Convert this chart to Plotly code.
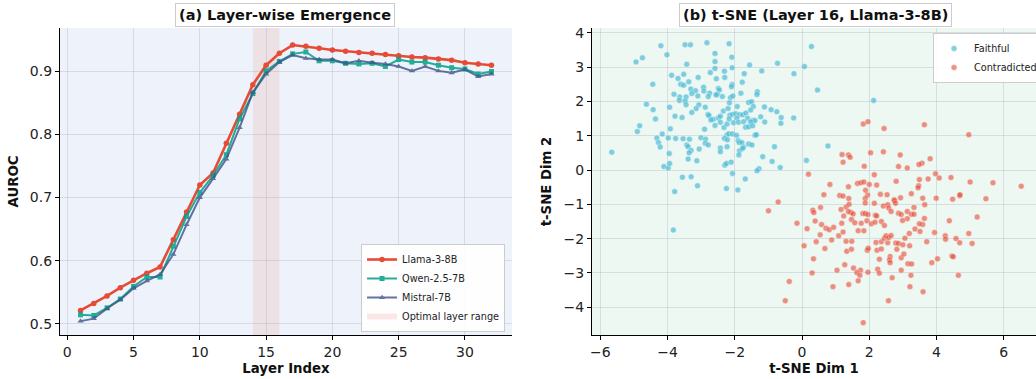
import plotly.graph_objects as go

# ---------------- data ----------------
layers = list(range(1, 33))
llama_auroc = [0.521, 0.532, 0.544, 0.557, 0.569, 0.580, 0.590, 0.633, 0.677, 0.720,
               0.739, 0.786, 0.832, 0.879, 0.910, 0.929, 0.942, 0.940, 0.937, 0.934,
               0.932, 0.930, 0.929, 0.927, 0.925, 0.923, 0.922, 0.920, 0.918, 0.914,
               0.912, 0.910]
qwen_auroc = [0.514, 0.513, 0.525, 0.539, 0.559, 0.574, 0.574, 0.623, 0.670, 0.708,
              0.735, 0.768, 0.825, 0.865, 0.901, 0.916, 0.928, 0.931, 0.917, 0.917,
              0.913, 0.912, 0.913, 0.908, 0.919, 0.915, 0.915, 0.910, 0.906, 0.904,
              0.896, 0.900]
mistral_auroc = [0.504, 0.508, 0.524, 0.538, 0.556, 0.568, 0.578, 0.610, 0.657, 0.700,
                 0.730, 0.761, 0.811, 0.867, 0.896, 0.915, 0.926, 0.921, 0.919, 0.919,
                 0.913, 0.917, 0.914, 0.912, 0.908, 0.901, 0.908, 0.901, 0.898, 0.903,
                 0.892, 0.896]
optimal_range = [14, 16]

faithful_x = [-4.20, -3.48, -3.32, -2.83, -2.17, 0.28, -4.02, -2.59, -4.94, -4.75,
              -2.09, -2.59, -3.43, -0.73, 0.07, -1.56, -2.08, -2.59, -2.73, -2.31,
              -1.20, -3.88, -3.52, -1.72, -0.24, -3.69, -2.55, -2.30, -3.09, -4.44,
              -3.61, -3.52, -3.37, -2.93, -2.49, -2.08, -2.10, -1.78, -3.31, -3.17,
              -2.92, -2.75, -2.46, -2.52, -1.33, -3.28, -3.81, -3.64, -3.45, -3.10,
              -2.79, -2.56, -2.37, -2.13, -2.06, -1.82, -1.34, 0.46, -3.65, -3.48,
              -3.94, -4.63, -3.45, -3.07, -3.15, -2.88, -2.16, -1.93, -1.59, -1.50,
              -1.45, -1.12, -0.92, -0.75, -4.43, -4.36, -3.78, -3.57, -3.28, -2.80,
              -2.77, -2.64, -2.49, -2.43, -2.34, -2.20, -2.15, -2.07, -1.97, -1.86,
              -1.76, -1.67, -1.53, -1.62, -1.47, -1.40, -1.23, -1.11, -0.62, -0.63,
              -0.25, -4.83, -4.90, -3.92, -2.90, -2.71, -2.59, -2.43, -2.32, -2.23,
              -2.17, -2.04, -1.94, -1.89, -1.74, -1.68, -1.59, -1.53, -1.47, -1.40,
              -1.36, -4.16, -4.32, -4.27, -4.22, -3.98, -3.76, -3.54, -3.35, -3.01,
              -2.87, -3.43, -3.39, -3.30, -3.06, -2.88, -2.79, -2.24, -2.18, -2.07,
              -1.95, -2.31, -2.22, -1.90, -1.87, -1.79, -1.74, -1.59, -1.49, -5.66,
              -3.36, -2.43, -2.43, -2.23, -1.86, -1.77, -0.82, -3.95, -3.39, -3.13,
              -4.11, -3.98, -3.94, -2.30, -2.25, -2.11, -1.88, -1.17, -0.89, -1.28,
              -1.34, -0.65, -2.07, -3.56, -3.30, -1.69, -3.11, -2.25, -3.79, -1.91,
              0.13, -3.83, 2.13, 0.77]
faithful_y = [3.62, 3.65, 3.65, 3.71, 3.68, 3.60, 3.36, 3.40, 3.15, 3.27,
              3.29, 3.16, 3.08, 3.11, 3.02, 3.06, 2.98, 2.96, 2.84, 2.88,
              2.89, 2.76, 2.79, 2.81, 2.81, 2.67, 2.66, 2.70, 2.70, 2.50,
              2.50, 2.47, 2.57, 2.41, 2.38, 2.49, 2.43, 2.56, 2.36, 2.31,
              2.30, 2.24, 2.33, 2.21, 2.28, 2.23, 2.21, 2.13, 2.13, 2.16,
              2.14, 2.19, 2.14, 2.11, 2.16, 2.24, 2.20, 2.33, 2.03, 2.01,
              1.83, 1.92, 1.90, 1.90, 1.79, 1.83, 1.96, 1.85, 1.97, 1.99,
              1.85, 1.84, 1.76, 1.70, 1.76, 1.49, 1.57, 1.53, 1.68, 1.62,
              1.59, 1.48, 1.52, 1.57, 1.72, 1.79, 1.60, 1.62, 1.64, 1.61,
              1.61, 1.66, 1.75, 1.51, 1.44, 1.44, 1.55, 1.40, 1.53, 1.36,
              1.52, 1.29, 1.12, 1.20, 1.19, 1.46, 1.30, 1.39, 1.24, 1.34,
              1.49, 1.38, 1.51, 1.39, 1.41, 1.25, 1.26, 1.40, 1.29, 1.01,
              1.03, 1.05, 0.93, 0.80, 0.67, 0.93, 0.92, 0.91, 0.90, 0.94,
              0.90, 0.73, 0.68, 0.57, 0.61, 0.78, 0.73, 1.01, 1.06, 1.05,
              1.01, 0.92, 0.88, 0.86, 0.80, 0.80, 0.67, 0.76, 0.73, 0.52,
              0.50, 0.64, 0.53, 0.68, 0.56, 0.63, 0.68, 0.48, 0.32, 0.27,
              0.10, 0.06, 0.19, 0.14, 0.19, 0.23, 0.44, 0.39, 0.25, 0.04,
              -0.02, 0.07, -0.10, -0.21, -0.20, -0.26, -0.46, -0.54, -0.63, -0.58,
              0.28, -1.75, 2.03, 0.70]

contradicted_x = [1.82, 1.96, 2.44, 3.64, 4.96, 1.19, 1.38, 1.43, 1.22, 2.04,
                  2.42, 2.92, 3.81, 3.57, 3.48, 1.85, 2.87, 3.13,
                  0.19, 2.15, 2.80, 3.97, 4.08, 4.43, 3.49, 3.75, 1.65, 1.75,
                  1.84, 2.00, 2.22, 0.83, 1.38, 3.47, 3.45, 5.00, 5.68, 6.52,
                  0.65, 1.12, 1.22, 1.95, 2.33, 2.53, 3.25, 1.39, 1.89, 1.88,
                  1.88, 3.59, 3.99, 4.48, 4.69, 4.70, 5.47, 2.74, 2.93, 0.32,
                  0.35, 0.55, 1.16, 1.24, 1.31, 1.40, 1.46, 1.38, 1.52, 1.81,
                  1.88, 1.96, 2.15, 2.18, 2.42, 2.55, 2.58, 2.65, 2.75, 2.78,
                  2.87, 2.95, 3.13, 3.25, 3.33, 3.33, 3.65, 3.13, 2.99, 0.39,
                  0.58, 0.71, 0.81, 0.94, 1.18, 1.47, 1.57, 1.76, 1.93, 2.06,
                  2.17, 2.22, 2.36, 2.45, 3.59, 3.49, 3.64, 3.36, 3.19, 3.51,
                  0.15, 1.67, 1.84, 4.38, 5.21, 3.94, 4.96, 0.06, 0.42, 0.54,
                  0.68, 0.88, 1.09, 1.22, 1.31, 1.48, 1.33, 1.47, 1.94, 1.97,
                  2.20, 2.23, 2.36, 2.36, 2.45, 2.50, 2.55, 2.58, 2.65, 2.79,
                  2.87, 3.00, 3.06, 3.20, 2.82, 3.71, 4.26, 4.27, 4.58, 4.69,
                  5.06, 0.34, 2.30, 2.62, 2.60, 2.62, 2.95, 3.03, 3.15, 3.26,
                  3.86, 4.03, 4.46, 4.50, 1.27, 0.30, 1.04, 1.53, 1.74, 1.63,
                  1.72, 1.96, 2.25, 2.30, 2.95, 3.24, 2.68, 4.65, 1.67, 0.92,
                  1.39, 3.21, 3.60, 2.57, 1.82,
                  -0.71, -1.00, -0.15, -0.38, -0.50]
contradicted_y = [1.34, 1.41, 1.21, 1.32, 1.03, 0.45, 0.44, 0.37, 0.23, 0.50,
                  0.53, 0.44, 0.33, 0.20, 0.16, 0.11, 0.10, 0.06,
                  -0.12, -0.14, -0.33, -0.11, -0.23, -0.22, -0.28, -0.26, -0.39, -0.37,
                  -0.35, -0.42, -0.44, -0.42, -0.49, -0.46, -0.52, -0.35, -0.37, -0.47,
                  -0.72, -0.74, -0.76, -0.73, -0.71, -0.72, -0.69, -0.83, -0.59, -0.83,
                  -0.96, -0.82, -0.82, -0.85, -0.75, -0.72, -0.84, -0.87, -0.81, -1.17,
                  -1.24, -1.09, -1.15, -1.34, -1.08, -1.00, -1.24, -1.21, -1.28, -1.27,
                  -1.27, -1.30, -0.97, -1.32, -1.05, -1.01, -1.11, -1.21, -0.89, -0.97,
                  -1.26, -1.30, -1.21, -1.29, -1.29, -1.09, -1.01, -1.42, -1.47, -1.49,
                  -1.59, -1.70, -1.74, -1.67, -1.55, -1.44, -1.54, -1.55, -1.48, -1.57,
                  -1.52, -1.34, -1.50, -1.62, -1.59, -1.57, -1.41, -1.72, -1.85, -1.79,
                  -1.71, -1.77, -1.77, -1.48, -1.37, -1.82, -1.85, -2.21, -2.09, -1.89,
                  -2.29, -2.04, -1.92, -1.81, -2.08, -2.08, -2.37, -2.31, -2.34, -2.28,
                  -2.11, -2.34, -2.09, -2.30, -1.99, -1.92, -2.12, -1.97, -1.91, -2.13,
                  -2.14, -2.18, -1.99, -2.21, -2.31, -2.09, -1.92, -2.02, -2.00, -2.12,
                  -2.14, -2.59, -2.60, -2.52, -2.62, -2.70, -2.56, -2.45, -2.73, -2.74,
                  -2.70, -2.59, -2.51, -2.53, -2.76, -3.00, -2.92, -2.86, -2.92, -2.99,
                  -3.07, -2.98, -2.89, -3.01, -2.92, -3.07, -3.14, -3.07, -3.23, -3.40,
                  -3.34, -3.40, -3.55, -3.81, -4.45,
                  -0.93, -1.19, -1.55, -3.25, -3.81]

# ---------------- styling ----------------
RED = "#E64B35"
TEAL = "#00A087"
NAVY = "#3C5488"
CYAN = "#4DBBD5"
FONT = "DejaVu Sans"

fig = go.Figure()

fig.add_trace(go.Scatter(x=layers, y=llama_auroc, name="Llama-3-8B", mode="lines+markers",
                         line=dict(color=RED, width=2.6), marker=dict(symbol="circle", size=5.5, color=RED),
                         xaxis="x", yaxis="y", legend="legend"))
fig.add_trace(go.Scatter(x=layers, y=qwen_auroc, name="Qwen-2.5-7B", mode="lines+markers",
                         line=dict(color=TEAL, width=2), marker=dict(symbol="square", size=5, color=TEAL),
                         opacity=0.85, xaxis="x", yaxis="y", legend="legend"))
fig.add_trace(go.Scatter(x=layers, y=mistral_auroc, name="Mistral-7B", mode="lines+markers",
                         line=dict(color=NAVY, width=2), marker=dict(symbol="triangle-up", size=5.5, color=NAVY),
                         opacity=0.8, xaxis="x", yaxis="y", legend="legend"))
fig.add_trace(go.Scatter(x=[None], y=[None], name="Optimal layer range", mode="none",
                         fill="toself", fillcolor="rgba(230,75,53,0.12)",
                         xaxis="x", yaxis="y", legend="legend"))

fig.add_trace(go.Scatter(x=faithful_x, y=faithful_y, name="Faithful", mode="markers",
                         marker=dict(color=CYAN, size=6, opacity=0.7, line=dict(color="white", width=0.5)),
                         xaxis="x2", yaxis="y2", legend="legend2"))
fig.add_trace(go.Scatter(x=contradicted_x, y=contradicted_y, name="Contradicted", mode="markers",
                         marker=dict(color=RED, size=6, opacity=0.6, line=dict(color="white", width=0.5)),
                         xaxis="x2", yaxis="y2", legend="legend2"))

fig.add_shape(type="rect", xref="x", yref="y domain", x0=optimal_range[0], x1=optimal_range[1],
              y0=0, y1=1, fillcolor="rgba(230,75,53,0.10)", line=dict(width=0), layer="below")
fig.add_shape(type="rect", xref="x2 domain", yref="y2 domain", x0=0, x1=1, y0=0, y1=1,
              fillcolor="#EEF8F3", line=dict(width=0), layer="below")

axis_common = dict(showline=True, linecolor="black", linewidth=1.2, ticks="outside", ticklen=4,
                   tickcolor="black", tickfont=dict(family=FONT, size=14, color="#222"),
                   showgrid=True, gridcolor="rgba(170,175,185,0.35)", gridwidth=1, zeroline=False,
                   mirror=False, automargin=False)
title_font = dict(family=FONT, size=13.3, color="#111")

fig.update_layout(
    width=1036, height=379,
    margin=dict(l=0, r=0, t=0, b=0, autoexpand=False),
    paper_bgcolor="white",
    font=dict(family=FONT, color="#222"),
    xaxis=dict(domain=[0.0579, 0.4942], range=[-0.55, 33.55], tickvals=[0, 5, 10, 15, 20, 25, 30],
               title=dict(text="<b>Layer Index</b>", font=title_font, standoff=4), anchor="y", **axis_common),
    yaxis=dict(domain=[0.1161, 0.9261], range=[0.482, 0.969], tickvals=[0.5, 0.6, 0.7, 0.8, 0.9],
               ticktext=["0.5", "0.6", "0.7", "0.8", "0.9"],
               title=dict(text="<b>AUROC</b>", font=title_font, standoff=8), anchor="x", **axis_common),
    xaxis2=dict(domain=[0.5714, 1.0], range=[-6.25, 6.96], tickvals=[-6, -4, -2, 0, 2, 4, 6],
                ticktext=["\u22126", "\u22124", "\u22122", "0", "2", "4", "6"],
                title=dict(text="<b>t-SNE Dim 1</b>", font=title_font, standoff=4), anchor="y2", **axis_common),
    yaxis2=dict(domain=[0.1161, 0.9261], range=[-4.81, 4.14], tickvals=[-4, -3, -2, -1, 0, 1, 2, 3, 4],
                ticktext=["\u22124", "\u22123", "\u22122", "\u22121", "0", "1", "2", "3", "4"],
                title=dict(text="<b>t-SNE Dim 2</b>", font=title_font, standoff=8), anchor="x2", **axis_common),
    plot_bgcolor="#EEF2FA",
    legend=dict(x=0.4875, y=0.124, xanchor="right", yanchor="bottom", bgcolor="rgba(255,255,255,0.9)",
                bordercolor="#cccccc", borderwidth=1, font=dict(family=FONT, size=9.7, color="#222"),
                tracegroupgap=0, itemwidth=30),
    legend2=dict(x=0.9006, y=0.913, xanchor="left", yanchor="top", bgcolor="rgba(255,255,255,0.9)",
                 bordercolor="#cccccc", borderwidth=1, font=dict(family=FONT, size=9.7, color="#222"),
                 itemwidth=30),
    showlegend=True,
)

fig.add_annotation(text="<b>(a) Layer-wise Emergence</b>", xref="paper", yref="paper",
                   x=0.2755, y=1 - 15 / 379, xanchor="center", yanchor="middle", showarrow=False,
                   font=dict(family=FONT, size=14.5, color="#111"),
                   bgcolor="white", bordercolor="#cccccc", borderwidth=1, borderpad=3)
fig.add_annotation(text="<b>(b) t-SNE (Layer 16, Llama-3-8B)</b>", xref="paper", yref="paper",
                   x=0.7876, y=1 - 15 / 379, xanchor="center", yanchor="middle", showarrow=False,
                   font=dict(family=FONT, size=14.5, color="#111"),
                   bgcolor="white", bordercolor="#cccccc", borderwidth=1, borderpad=3)

fig.write_html("out.html", config={"displayModeBar": False},
               post_script="document.body.style.margin='0';document.body.style.overflow='hidden';")
